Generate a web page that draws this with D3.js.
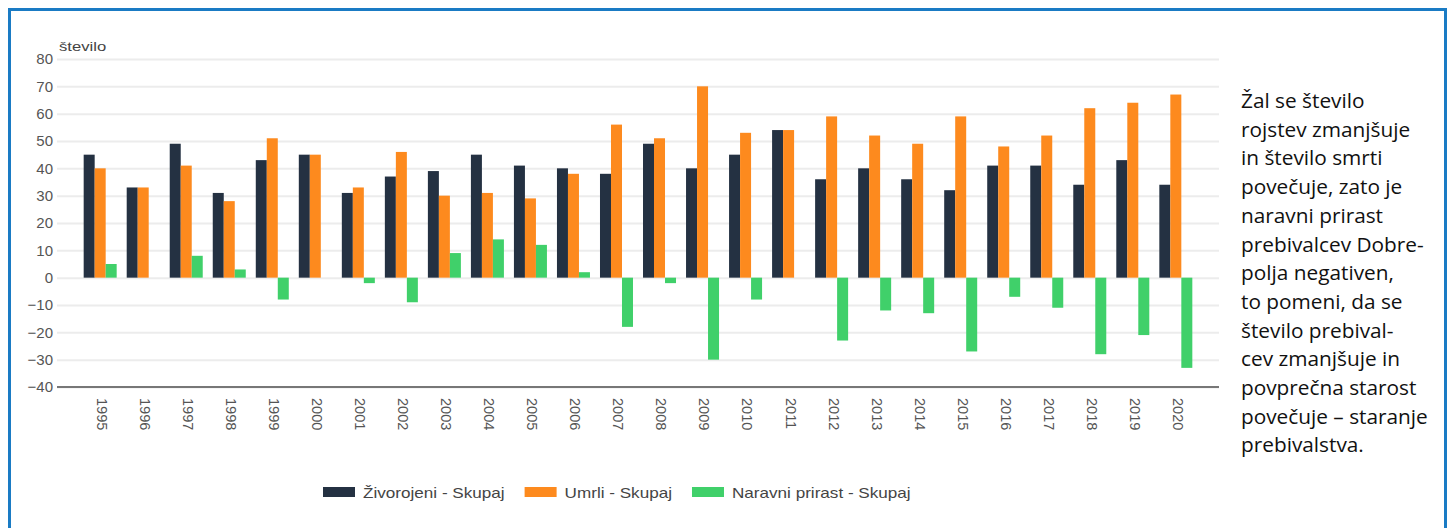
<!DOCTYPE html>
<html>
<head>
<meta charset="utf-8">
<script src="https://cdn.jsdelivr.net/npm/d3@7"></script>
<style>
  body { margin: 0; background: #fff; }
  svg { display: block; }
  .grid line { stroke: #ececec; stroke-width: 2px; }
  .grid .domain { display: none; }
  .axis text { font-family: "Liberation Sans", Arial, sans-serif; fill: #555; }
  .axis .domain, .axis line { display: none; }
  .legend text { font-family: "Liberation Sans", Arial, sans-serif; fill: #444; }
  .note { font-family: "Open Sans", sans-serif; font-size: 20.8px; fill: #111; }
</style>
</head>
<body>
<svg id="chart"></svg>
<script>
// Data
const years = ['1995', '1996', '1997', '1998', '1999', '2000', '2001', '2002', '2003', '2004', '2005', '2006', '2007',
  '2008', '2009', '2010', '2011', '2012', '2013', '2014', '2015', '2016', '2017', '2018', '2019', '2020'];
const births = [45, 33, 49, 31, 43, 45, 31, 37, 39, 45, 41, 40, 38, 49, 40, 45, 54, 36, 40, 36, 32, 41, 41, 34, 43, 34];
const deaths = [40, 33, 41, 28, 51, 45, 33, 46, 30, 31, 29, 38, 56, 51, 70, 53, 54, 59, 52, 49, 59, 48, 52, 62, 64, 67];
const natural = [5, 0, 8, 3, -8, 0, -2, -9, 9, 14, 12, 2, -18, -2, -30, -8, 0, -23, -12, -13, -27, -7, -11, -28, -21, -33];
const seriesNames = ['Živorojeni - Skupaj', 'Umrli - Skupaj', 'Naravni prirast - Skupaj'];
const seriesColors = ['#243142', '#fd8a1e', '#40d06a'];
const yTicks = [-40, -30, -20, -10, 0, 10, 20, 30, 40, 50, 60, 70, 80];
const noteLines = ['Žal se število', 'rojstev zmanjšuje', 'in število smrti', 'povečuje, zato je', 'naravni prirast',
  'prebivalcev Dobre-', 'polja negativen,', 'to pomeni, da se', 'število prebival-', 'cev zmanjšuje in',
  'povprečna starost', 'povečuje – staranje', 'prebivalstva.'];

// the source picture is a bit wider than tall, so chart text is stretched sideways
const textStretch = 1.14;

class GroupedBarChart {

  constructor(_config) {
    this.config = {
      parentElement: _config.parentElement,
      containerWidth: 1453,
      containerHeight: 528,
      margin: { top: 59, right: 234, bottom: 141, left: 57 }
    }
    this.initVis();
  }

  initVis() {
    let vis = this;

    vis.config.width = vis.config.containerWidth - vis.config.margin.left - vis.config.margin.right;
    vis.config.height = vis.config.containerHeight - vis.config.margin.top - vis.config.margin.bottom;

    vis.svg = d3.select(vis.config.parentElement)
      .attr('width', vis.config.containerWidth)
      .attr('height', vis.config.containerHeight);

    // blue frame around everything
    vis.svg.append('rect')
      .attr('x', 9.5)
      .attr('y', 9.5)
      .attr('width', 1436)
      .attr('height', 560)
      .attr('fill', 'none')
      .attr('stroke', '#1a7bc4')
      .attr('stroke-width', 3);

    vis.chartArea = vis.svg.append('g')
      .attr('transform', `translate(${vis.config.margin.left},${vis.config.margin.top})`);

    vis.xScale = d3.scaleBand()
      .domain(years)
      .range([0, vis.config.width])
      .paddingInner(0.233)
      .paddingOuter(0.62);

    vis.xSub = d3.scaleBand()
      .domain([0, 1, 2])
      .range([0, vis.xScale.bandwidth()]);

    vis.yScale = d3.scaleLinear()
      .domain([-40, 80])
      .range([vis.config.height, 0]);

    vis.yGrid = vis.chartArea.append('g')
      .attr('class', 'grid');

    vis.yAxisG = vis.chartArea.append('g')
      .attr('class', 'axis y-axis');

    vis.xAxisG = vis.chartArea.append('g')
      .attr('class', 'axis x-axis')
      .attr('transform', `translate(0,${vis.config.height})`);

    // y-axis title
    const title = vis.chartArea.append('text')
      .attr('class', 'axis-title')
      .attr('x', 2)
      .attr('y', -8)
      .style('font-family', '"Liberation Sans", Arial, sans-serif')
      .style('font-size', '13px')
      .style('fill', '#444')
      .text('število');
    title.attr('textLength', title.node().getComputedTextLength() * 1.28)
      .attr('lengthAdjust', 'spacingAndGlyphs');
  }

  updateVis() {
    let vis = this;

    vis.data = years.map((year, i) => ({
      year,
      values: [births[i], deaths[i], natural[i]]
    }));

    vis.yGrid.call(d3.axisLeft(vis.yScale)
      .tickValues(yTicks)
      .tickSize(-vis.config.width)
      .tickFormat(''));

    vis.renderVis();
  }

  renderVis() {
    let vis = this;

    vis.yAxisG.call(d3.axisLeft(vis.yScale).tickValues(yTicks).tickSize(0).tickPadding(4))
      .selectAll('text')
      .style('font-size', '15px');

    vis.xAxisG.call(d3.axisBottom(vis.xScale).tickSize(0))
      .selectAll('text')
      .style('font-size', '14.5px')
      .attr('text-anchor', 'start')
      .attr('transform', 'rotate(90)')
      .attr('x', 11)
      .attr('y', -2)
      .attr('dy', '0.35em');

    // baseline at the bottom of the value axis
    vis.chartArea.append('line')
      .attr('x1', 0)
      .attr('x2', vis.config.width)
      .attr('y1', vis.config.height)
      .attr('y2', vis.config.height)
      .attr('stroke', '#777')
      .attr('stroke-width', 2);

    const groups = vis.chartArea.selectAll('.year')
      .data(vis.data)
      .join('g')
      .attr('class', 'year')
      .attr('transform', d => `translate(${vis.xScale(d.year)},0)`);

    groups.selectAll('rect')
      .data(d => d.values)
      .join('rect')
      .attr('x', (d, i) => vis.xSub(i))
      .attr('width', vis.xSub.bandwidth())
      .attr('y', d => vis.yScale(Math.max(0, d)))
      .attr('height', d => Math.abs(vis.yScale(d) - vis.yScale(0)))
      .attr('fill', (d, i) => seriesColors[i]);

    // Legend
    const legend = vis.svg.append('g')
      .attr('class', 'legend')
      .attr('transform', 'translate(323,487)');
    let offset = 0;
    seriesNames.forEach((name, i) => {
      const item = legend.append('g').attr('transform', `translate(${offset},0)`);
      item.append('rect')
        .attr('width', 32)
        .attr('height', 10)
        .attr('fill', seriesColors[i]);
      const label = item.append('text')
        .attr('x', 40)
        .attr('y', 10.5)
        .style('font-size', '15px')
        .text(name);
      const w = label.node().getComputedTextLength() * textStretch;
      label.attr('textLength', w).attr('lengthAdjust', 'spacingAndGlyphs');
      offset += 40 + w + 20;
    });

    // Side note
    vis.svg.append('text')
      .attr('class', 'note')
      .selectAll('tspan')
      .data(noteLines)
      .join('tspan')
      .attr('x', 1241)
      .attr('y', (d, i) => 108 + i * 28.7)
      .text(d => d);
  }
}

const chart = new GroupedBarChart({ parentElement: '#chart' });
chart.updateVis();
</script>
</body>
</html>
